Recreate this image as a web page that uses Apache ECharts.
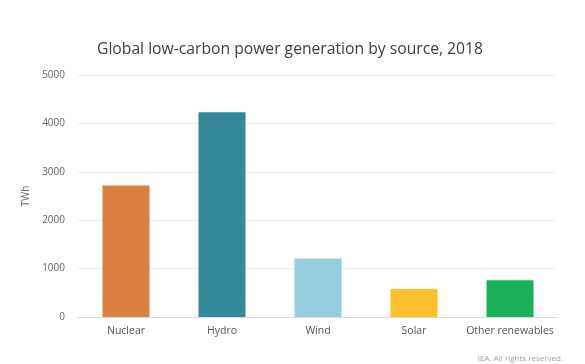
<!DOCTYPE html>
<html><head><meta charset="utf-8">
<script src="https://cdn.jsdelivr.net/npm/echarts@6/dist/echarts.min.js"></script>
<style>html,body{margin:0;padding:0;background:#fff}#c{width:585px;height:364px}</style>
</head><body><div id="c"></div>
<script>
const categories = ["Nuclear", "Hydro", "Wind", "Solar", "Other renewables"];
const values = [2715, 4230, 1207, 578, 758];
const barColors = ["#DA8040", "#348A9A", "#97CEDE", "#FEC02E", "#1BB05A"];
const yTicks = [0, 1000, 2000, 3000, 4000, 5000];

const chart = echarts.init(document.getElementById('c'), null, {renderer: 'canvas'});
chart.setOption({
  animation: false,
  backgroundColor: '#fff',
  title: [{
    text: 'Global low-carbon power generation by source, 2018',
    left: 92, top: 37,
    textStyle: {fontFamily: 'Open Sans', fontSize: 15.7, fontWeight: 'normal', color: '#3d3d3d'}
  }, {
    text: 'IEA. All rights reserved.',
    right: 17, top: 350,
    textStyle: {fontFamily: 'Open Sans', fontSize: 8, fontWeight: 'normal', color: '#a0a0a0'}
  }],
  grid: {left: 78, right: 27, top: 75, bottom: 47, containLabel: false},
  xAxis: {
    type: 'category', data: categories,
    axisLine: {lineStyle: {color: '#d5dae6'}},
    axisTick: {show: false},
    axisLabel: {fontFamily: 'Open Sans', fontSize: 10.5, color: '#555', margin: 9, interval: 0}
  },
  yAxis: {
    type: 'value', min: yTicks[0], max: yTicks[yTicks.length - 1], interval: 1000,
    name: 'TWh', nameLocation: 'middle', nameGap: 35, nameRotate: 90,
    nameTextStyle: {fontFamily: 'Open Sans', fontSize: 10, color: '#666'},
    axisLine: {show: false}, axisTick: {show: false},
    axisLabel: {fontFamily: 'Open Sans', fontSize: 10, color: '#666', margin: 13,
      formatter: v => String(v)},
    splitLine: {lineStyle: {color: '#ececec'}}
  },
  series: [{
    type: 'bar', barWidth: '49%',
    data: values.map((v, i) => ({value: v, itemStyle: {color: barColors[i]}}))
  }]
});
</script></body></html>
